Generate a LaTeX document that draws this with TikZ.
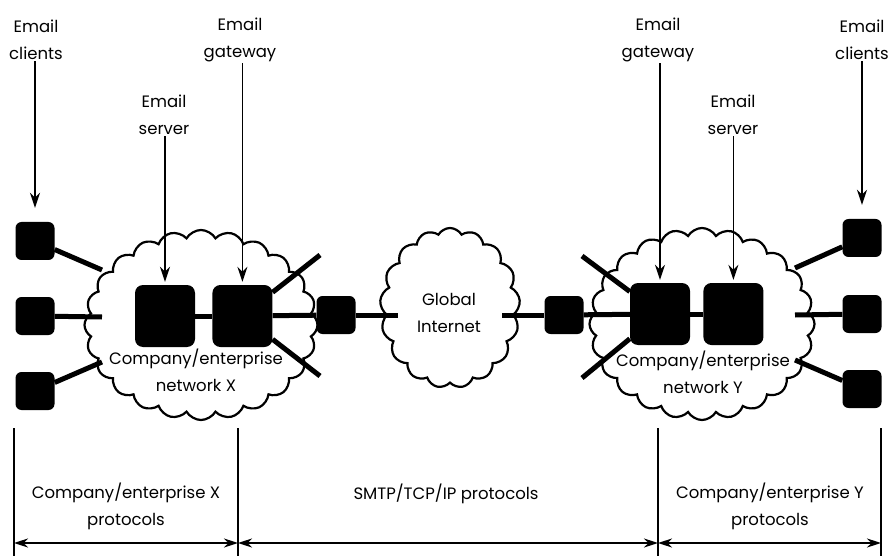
\documentclass[tikz,border=0pt]{standalone}
\usepackage{fontspec}
\setmainfont{Poppins}
\usetikzlibrary{positioning,shapes.symbols,arrows.meta}

\begin{document}
\begin{tikzpicture}[
    x=1pt, y=-1pt,
    font=\fontsize{16.5}{27}\selectfont,
    lbl/.style={align=center, inner sep=1pt},
    host/.style={fill=black, rounded corners=6pt, minimum width=39pt, minimum height=38pt},
    bigbox/.style={fill=black, rounded corners=8pt, minimum width=60pt, minimum height=62pt},
    net/.style={cloud, draw, line width=2.2pt, cloud puffs=24, cloud puff arc=120, cloud ignores aspect},
    link/.style={line width=5pt},
    pointer/.style={-{Stealth[length=15pt,width=10pt]}, line width=1.5pt},
    span/.style={{Stealth[length=14pt,width=9pt]}-{Stealth[length=14pt,width=9pt]}, line width=2pt},
    divider/.style={line width=1.5pt}
  ]
    \useasboundingbox (0,0) rectangle (889,556);

    % clouds
    \node[net, minimum width=233pt, minimum height=190pt] (cloudX) at (201,325) {};
    \node[net, minimum width=225pt, minimum height=192pt] (cloudY) at (702,324) {};
    \node[net, cloud puffs=17, minimum width=140pt, minimum height=160pt] (inet) at (450,308) {};
    \node[lbl] (inetTxt) at (449,313) {Global\\Internet};
    \node[lbl] (netX) at (196,370) {Company/enterprise\\network X};
    \node[lbl] (netY) at (703,372) {Company/enterprise\\network Y};

    % free ends of the links
    \coordinate (eX1) at (102,270);
    \coordinate (eX2) at (102,317);
    \coordinate (eX3) at (102,362);
    \coordinate (eY1) at (795,268);
    \coordinate (eY2) at (795,315);
    \coordinate (eY3) at (795,360);
    \coordinate (dX1) at (320,255);
    \coordinate (dX2) at (320,376);
    \coordinate (dY1) at (582,256);
    \coordinate (dY2) at (582,378);
    \coordinate (iX) at (398,315);
    \coordinate (iY) at (502,315);

    % boxes
    \node[bigbox] (srvX) at (165,316) {};
    \node[bigbox, right=17pt of srvX] (gwX) {};
    \node[host] (rtrX) at (336,315) {};
    \node[host] (rtrY) at (564,315) {};
    \node[bigbox] (gwY) at (660,314) {};
    \node[bigbox, right=13pt of gwY] (srvY) {};
    \node[host] (cliX1) at (35,241) {};
    \node[host] (cliX2) at (35,316) {};
    \node[host] (cliX3) at (35,391) {};
    \node[host] (cliY1) at (862,238) {};
    \node[host] (cliY2) at (862,314) {};
    \node[host] (cliY3) at (862,389) {};

    % links
    \draw[link] (cliX1) -- (eX1);
    \draw[link] (cliX2) -- (eX2);
    \draw[link] (cliX3) -- (eX3);
    \draw[link] (srvX) -- (gwX);
    \draw[link] (gwX) -- (dX1);
    \draw[link] (gwX) -- (dX2);
    \draw[link] (gwX) -- (rtrX);
    \draw[link] (rtrX) -- (iX);
    \draw[link] (iY) -- (rtrY);
    \draw[link] (rtrY) -- (gwY);
    \draw[link] (gwY) -- (dY1);
    \draw[link] (gwY) -- (dY2);
    \draw[link] (gwY) -- (srvY);
    \draw[link] (eY1) -- (cliY1);
    \draw[link] (eY2) -- (cliY2);
    \draw[link] (eY3) -- (cliY3);

    % labels and pointers
    \node[lbl] (lblCliX) at (36,40) {Email\\clients};
    \node[lbl] (lblGwX) at (240,40) {Email\\gateway};
    \node[lbl] (lblSrvX) at (164,115) {Email\\server};
    \node[lbl] (lblGwY) at (658,40) {Email\\gateway};
    \node[lbl] (lblSrvY) at (733,115) {Email\\server};
    \node[lbl] (lblCliY) at (862,40) {Email\\clients};
    \draw[pointer, shorten >=14pt] (lblCliX.south -| cliX1) -- (cliX1.north);
    \draw[pointer, shorten >=3pt] (lblGwX.south -| gwX) -- (gwX.north);
    \draw[pointer, shorten >=3pt] (lblSrvX.south -| srvX) -- (srvX.north);
    \draw[pointer, shorten >=3pt] (lblGwY.south -| gwY) -- (gwY.north);
    \draw[pointer, shorten >=3pt] (lblSrvY.south -| srvY) -- (srvY.north);
    \draw[pointer, shorten >=14pt] (lblCliY.south -| cliY1) -- (cliY1.north);

    % protocol spans
    \foreach \x/\n in {14/0, 238/1, 658/2, 881/3} {
      \coordinate (b\n) at (\x,543);
      \draw[divider] (\x,428) -- (\x,556);
    }
    \draw[span] (b0) -- (b1);
    \draw[span] (b1) -- (b2);
    \draw[span] (b2) -- (b3);
    \node[lbl] (protoX) at (126,506) {Company/enterprise X\\protocols};
    \node[lbl] (protoNet) at (446,494) {SMTP/TCP/IP protocols};
    \node[lbl] (protoY) at (770,506) {Company/enterprise Y\\protocols};
  \end{tikzpicture}
\end{document}
